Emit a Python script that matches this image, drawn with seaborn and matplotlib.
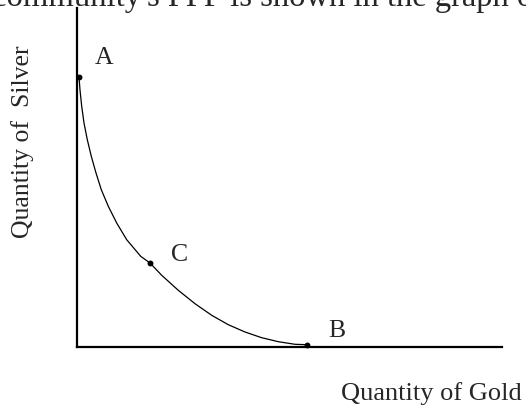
import numpy as np
import pandas as pd
import matplotlib
matplotlib.use("Agg")
import matplotlib.pyplot as plt
import seaborn as sns

# points (gold, silver)
gold = [0.2, 0.3, 0.47, 0.7, 1.03, 1.43, 1.9, 2.43, 3.13, 3.97, 4.97, 6.37, 7.3,
        8.47, 10.13, 11.8, 13.47, 15.13, 16.8, 18.47, 20.13, 21.8, 23.0]
silver = [27.0, 25.7, 24.07, 22.4, 20.73, 19.07, 17.4, 15.73, 14.07, 12.4, 10.73, 9.07, 8.4,
          7.17, 5.67, 4.33, 3.17, 2.23, 1.5, 0.93, 0.53, 0.27, 0.23]

# labelled points
pt_names = ["A", "C", "B"]
pt_gold = [0.2, 7.3, 23.0]
pt_silver = [27.0, 8.4, 0.23]

sns.set_style("ticks")
plt.rcParams['font.family'] = ['Liberation Serif', 'DejaVu Serif']

fig = plt.figure(figsize=(5.26, 4.06), dpi=100)
ax = fig.add_axes([77/526, 58/406, 425/526, 339/406])

curve = pd.DataFrame({'gold': gold, 'silver': silver})
sns.lineplot(data=curve, x='gold', y='silver', color='black', linewidth=0.9, sort=False, ax=ax)
pts = pd.DataFrame({'gold': pt_gold, 'silver': pt_silver})
sns.scatterplot(data=pts, x='gold', y='silver', color='black', s=18, edgecolor='black', linewidth=0, ax=ax, zorder=5, clip_on=False)

label_pos = {"A": (2.7, 28.4), "C": (10.3, 8.7), "B": (26.0, 1.1)}
for name in pt_names:
    lx, ly = label_pos[name]
    ax.text(lx, ly, name, fontsize=18.5, ha='center', va='baseline')

ax.set_xlim(0, 42.5)
ax.set_ylim(0, 33.9)
ax.set_xticks([])
ax.set_yticks([])
ax.set_xlabel('')
ax.set_ylabel('')
sns.despine(ax=ax)
for s in ['left', 'bottom']:
    ax.spines[s].set_linewidth(1.6)
    ax.spines[s].set_color('black')

fig.text(522/526, 6/406, 'Quantity of Gold', fontsize=19, ha='right', va='baseline')
fig.text(23/526, 1 - 142/406, 'Quantity of  Silver', fontsize=18.5, rotation=90, ha='center', va='center')

# clipped sentence at the very top of the crop
fig.text(-8/526, 1 - 6/406, "community's PPF is shown in the graph of", fontsize=23.5, ha='left', va='baseline')

fig.savefig('out.png', dpi=100)
